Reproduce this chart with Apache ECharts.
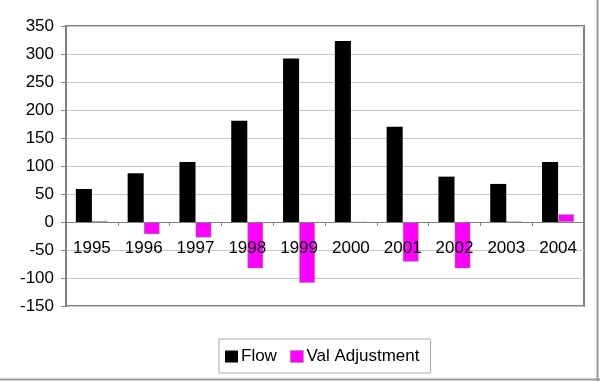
<!DOCTYPE html>
<html>
<head>
<meta charset="utf-8">
<script src="https://cdn.jsdelivr.net/npm/echarts@6/dist/echarts.min.js"></script>
<style>
html,body{margin:0;padding:0;background:#fff;}
#chart{width:600px;height:381px;}
</style>
</head>
<body>
<div id="chart"></div>
<script>
var categories = ['1995','1996','1997','1998','1999','2000','2001','2002','2003','2004'];
var flow = [59, 87, 107, 181, 292, 323, 170, 81, 68, 107];
var valAdjustment = [2, -22, -28, -83, -109, -1, -71, -83, 0, 14];
var yTicks = {min: -150, max: 350, interval: 50};

var gridTop = 26, gridBottom = 75, chartH = 381;
var plotH = chartH - gridTop - gridBottom;
var zeroOffset = -(0 - yTicks.min) / (yTicks.max - yTicks.min) * plotH;

var chart = echarts.init(document.getElementById('chart'), null, {renderer: 'canvas'});
var font = 'Liberation Sans, Arial, sans-serif';
chart.setOption({
  animation: false,
  backgroundColor: '#fff',
  graphic: [
    {type: 'line', shape: {x1: 597.5, y1: 0, x2: 597.5, y2: 381}, style: {stroke: '#999', lineWidth: 2}, z: 100},
    {type: 'line', shape: {x1: 0, y1: 379.5, x2: 600, y2: 379.5}, style: {stroke: '#999', lineWidth: 2}, z: 100}
  ],
  grid: {left: 66, right: 16, top: gridTop, bottom: gridBottom, show: true, borderColor: '#808080', borderWidth: 2, backgroundColor: 'transparent'},
  legend: {
    left: 219, top: 339,
    orient: 'horizontal',
    itemWidth: 13, itemHeight: 12,
    itemGap: 13,
    padding: [9, 11, 8, 6],
    borderColor: '#aaa', borderWidth: 1, backgroundColor: '#fff',
    textStyle: {fontFamily: font, fontSize: 17, color: '#000', padding: [0, 0, 0, -2]},
    data: [
      {name: 'Flow', icon: 'rect'},
      {name: 'Val Adjustment', icon: 'rect', itemStyle: {color: '#ff00ff', borderColor: '#888', borderWidth: 1, borderType: 'dotted'}}
    ]
  },
  xAxis: {
    type: 'category',
    data: categories,
    position: 'bottom',
    offset: zeroOffset,
    z: 10,
    axisLine: {onZero: false, lineStyle: {color: '#808080', width: 1}},
    axisTick: {show: true, length: 4, inside: false, lineStyle: {color: '#808080'}},
    axisLabel: {fontFamily: font, fontSize: 17, color: '#000', margin: 18},
    splitLine: {show: false}
  },
  yAxis: {
    type: 'value',
    min: yTicks.min, max: yTicks.max, interval: yTicks.interval,
    axisLine: {show: true, lineStyle: {color: '#808080', width: 2}},
    axisTick: {show: true, length: 5, lineStyle: {color: '#808080'}},
    axisLabel: {fontFamily: font, fontSize: 17, color: '#000', margin: 12},
    splitLine: {show: true, lineStyle: {color: '#c8c8c8', width: 1}}
  },
  series: [
    {
      name: 'Flow', type: 'bar', data: flow,
      barGap: '0%', barCategoryGap: '38%',
      itemStyle: {color: '#000'}
    },
    {
      name: 'Val Adjustment', type: 'bar', data: valAdjustment,
      barGap: '0%', barCategoryGap: '38%',
      itemStyle: {color: '#ff00ff', borderColor: '#888', borderWidth: 1, borderType: 'dotted'}
    }
  ]
});
</script>
</body>
</html>
